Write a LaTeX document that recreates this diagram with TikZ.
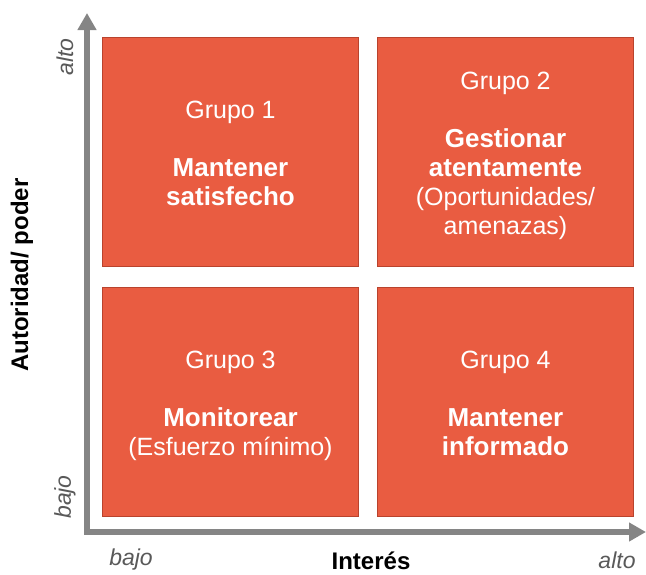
\documentclass[tikz,border=0pt]{standalone}
\usepackage{fontspec}
\setmainfont{Liberation Sans}
\usetikzlibrary{arrows.meta}
\definecolor{boxfill}{HTML}{E95C41}
\definecolor{boxline}{HTML}{B9432D}
\definecolor{axisgray}{HTML}{858585}
\definecolor{labgray}{HTML}{595959}
\newcommand{\bl}[1]{{\fontsize{26}{29}\selectfont\bfseries #1}}
\newcommand{\topstrut}{\rule{0pt}{28.5pt}}
\begin{document}
\begin{tikzpicture}[x=1pt,y=-1pt,
  quad/.style={draw=boxline,line width=1.5pt,fill=boxfill,minimum width=256pt,minimum height=229pt,
    inner sep=0pt,text=white,align=center,font=\fontsize{25}{29}\selectfont},
  axlab/.style={text=labgray,font=\fontsize{23}{26}\selectfont\itshape,inner sep=0pt},
  axtitle/.style={text=black,font=\fontsize{24}{26}\selectfont\bfseries,inner sep=0pt}]
\useasboundingbox (0,0) rectangle (646,574);
\node[quad] (g1) at (230.5,152) {\topstrut Grupo 1\\[29pt]\bl{Mantener}\\\bl{satisfecho}\strut};
\node[quad] (g2) at (505.5,152) {\topstrut Grupo 2\\[29pt]\bl{Gestionar}\\\bl{atentamente}\\(Oportunidades/\\amenazas)\strut};
\node[quad] (g3) at (230.5,402) {\topstrut Grupo 3\\[29pt]\bl{Monitorear}\\(Esfuerzo mínimo)\strut};
\node[quad] (g4) at (505.5,402) {\topstrut Grupo 4\\[29pt]\bl{Mantener}\\\bl{informado}\strut};
\coordinate (ytip) at (87,13);
\coordinate (orig) at (87,532);
\coordinate (xtip) at (646,532);
\draw[axisgray,line width=6pt,line join=miter,
  {Triangle[width=18pt,length=17pt]}-{Triangle[width=18pt,length=17pt]}] (ytip) -- (orig) -- (xtip);
\node[axlab,rotate=90] (yalto) at (65,57) {alto};
\node[axlab,rotate=90] (ybajo) at (65,497) {bajo};
\node[axlab] (xbajo) at (131,560) {bajo};
\node[axlab] (xalto) at (617,560) {alto};
\node[axtitle] (xt) at (371,561) {Interés};
\node[axtitle,rotate=90] (yt) at (22,275) {Autoridad/ poder};
\end{tikzpicture}
\end{document}
